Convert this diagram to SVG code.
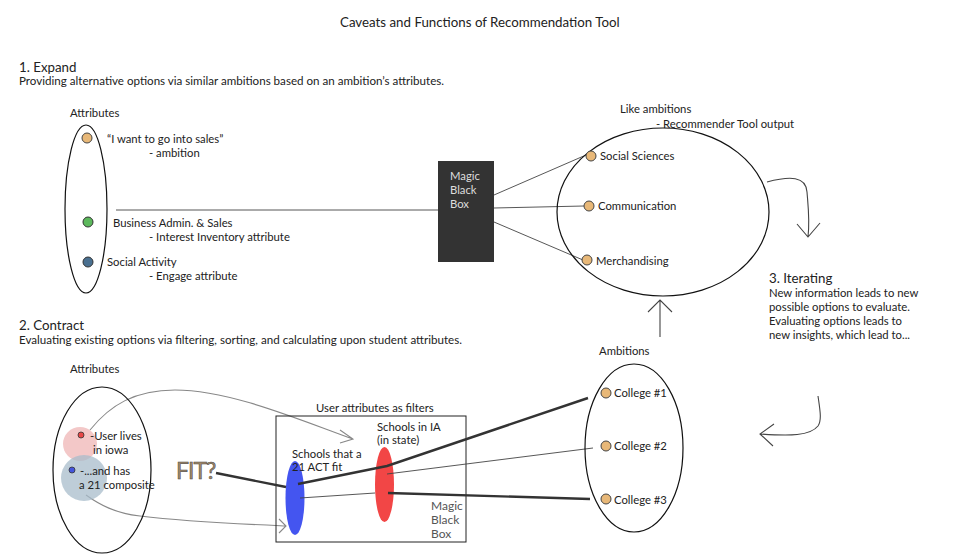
<svg xmlns="http://www.w3.org/2000/svg" width="960" height="560" viewBox="0 0 960 560">
<style>
text{font-family:Lato,"Liberation Sans",sans-serif;fill:#222;font-size:11.3px}
.h{font-size:13.3px}
.d{font-size:11.6px}
.dot{fill:#e8b878;stroke:#444;stroke-width:1}
.ell{fill:none;stroke:#111;stroke-width:1.2}
.thin{stroke:#444;stroke-width:0.9;fill:none}
.thick{stroke:#333;stroke-width:2.4;fill:none}
.gray{stroke:#888;stroke-width:1.1;fill:none}
.arr{stroke:#444;stroke-width:1.1;fill:none}
.mbb{fill:#ddd}
.mbg{fill:#555;font-size:12px}
</style>
<rect width="960" height="560" fill="#fff"/>
<text class="h" x="340" y="27">Caveats and Functions of Recommendation Tool</text>
<text class="h" x="19" y="72">1. Expand</text>
<text class="d" x="19" y="85">Providing alternative options via similar ambitions based on an ambition’s attributes.</text>
<text class="h" x="19" y="330">2. Contract</text>
<text class="d" x="19" y="344">Evaluating existing options via filtering, sorting, and calculating upon student attributes.</text>
<g id="iterating">
<text class="h" x="769" y="283">3. Iterating</text>
<text x="769" y="297">New information leads to new</text>
<text x="769" y="311">possible options to evaluate.</text>
<text x="769" y="325">Evaluating options leads to</text>
<text x="769" y="339">new insights, which lead to...</text>
</g>
<g id="connectors">
<line class="thin" x1="116" y1="210" x2="438" y2="210"/>
<line class="thin" x1="494" y1="195" x2="586" y2="155"/>
<line class="thin" x1="494" y1="208" x2="584" y2="206"/>
<line class="thin" x1="494" y1="222" x2="583" y2="260"/>
<path class="arr" d="M767,182 C790,176 806,176 807,192 C808,205 810,220 808,237 M797,224 L808,237 L820,223"/>
<path class="arr" d="M660,337 L660,300 M648,312 L660,300 L672,312"/>
<path class="arr" d="M818,396 C820,410 822,420 818,426 C810,436 790,436 760,434 M774,424 L760,434 L773,446"/>
<path class="gray" d="M90,430 C110,405 135,390 175,390 C230,390 300,420 353,439 M340,430 L353,439 L340,443"/>
<path class="gray" d="M86,495 C100,505 115,513 140,516 C190,522 240,524 286,526 M279,519 L286,526 L279,533"/>
</g>
<g id="expand-attributes">
<text x="70" y="117">Attributes</text>
<ellipse class="ell" cx="86" cy="209" rx="21" ry="84"/>
<circle class="dot" cx="87" cy="138" r="5"/>
<circle cx="88" cy="222" r="5" fill="#5cb85c" stroke="#333"/>
<circle cx="88" cy="262" r="5" fill="#4a7090" stroke="#333"/>
<text x="107" y="143">“I want to go into sales”</text>
<text x="149" y="157">- ambition</text>
<text x="113" y="227">Business Admin. &amp; Sales</text>
<text x="149" y="241">- Interest Inventory attribute</text>
<text x="107" y="266">Social Activity</text>
<text x="149" y="280">- Engage attribute</text>
</g>
<g id="black-box">
<rect x="438" y="161" width="56" height="101" fill="#333"/>
<text class="mbb" x="450" y="180">Magic</text>
<text class="mbb" x="450" y="194">Black</text>
<text class="mbb" x="450" y="208">Box</text>
</g>
<g id="like-ambitions">
<text x="620" y="113">Like ambitions</text>
<text x="656" y="128">- Recommender Tool output</text>
<ellipse class="ell" cx="663" cy="212" rx="106" ry="84"/>
<circle class="dot" cx="591" cy="156" r="5"/>
<circle class="dot" cx="589" cy="206" r="5"/>
<circle class="dot" cx="587" cy="260" r="5"/>
<text x="600" y="160">Social Sciences</text>
<text x="598" y="210">Communication</text>
<text x="596" y="265">Merchandising</text>
</g>
<g id="contract-attributes">
<text x="70" y="373">Attributes</text>
<ellipse class="ell" cx="102" cy="470" rx="49" ry="83"/>
<circle cx="80" cy="444" r="17" fill="#eeb0b0" fill-opacity="0.7"/>
<circle cx="84" cy="478" r="23" fill="#a8bccb" fill-opacity="0.75"/>
<circle cx="81" cy="435" r="3" fill="#e84848" stroke="#333" stroke-width="0.8"/>
<circle cx="72" cy="470" r="3" fill="#4455dd" stroke="#333" stroke-width="0.8"/>
<text x="90" y="440">-User lives</text>
<text x="93" y="454">in iowa</text>
<text x="80" y="475">-...and has</text>
<text x="79" y="489">a 21 composite</text>
</g>
<g id="fit">
<text x="176" y="479" style="font-size:23px;fill:#a08868;stroke:#444;stroke-width:0.5;letter-spacing:-1px">FIT?</text>
</g>
<g id="filters">
<text x="316" y="412">User attributes as filters</text>
<rect x="276" y="416" width="190" height="126" fill="none" stroke="#222" stroke-width="1"/>
<ellipse cx="295" cy="498" rx="9.5" ry="37" fill="#4455f0"/>
<ellipse cx="384.5" cy="484.5" rx="9.5" ry="37.5" fill="#f24646"/>
<text x="292" y="458">Schools that a</text>
<text x="292" y="471">21 ACT fit</text>
<text x="377" y="431">Schools in IA</text>
<text x="377" y="444">(in state)</text>
<text class="mbg" x="431" y="510">Magic</text>
<text class="mbg" x="431" y="524">Black</text>
<text class="mbg" x="431" y="538">Box</text>
</g>
<g id="filter-lines">
<line class="thick" x1="216" y1="473" x2="286" y2="487"/>
<polyline class="thick" points="298,484 387,466 588,398"/>
<line class="thin" x1="387" y1="474" x2="593" y2="448"/>
<line class="thin" x1="300" y1="498" x2="375" y2="493"/>
<line class="thick" x1="388" y1="493" x2="590" y2="499"/>
</g>
<g id="ambitions">
<text x="599" y="355">Ambitions</text>
<ellipse class="ell" cx="634" cy="448" rx="49" ry="84"/>
<circle class="dot" cx="606" cy="393" r="5"/>
<circle class="dot" cx="606" cy="446" r="5"/>
<circle class="dot" cx="606" cy="499" r="5"/>
<text x="614" y="397">College #1</text>
<text x="614" y="450">College #2</text>
<text x="614" y="504">College #3</text>
</g>
</svg>
